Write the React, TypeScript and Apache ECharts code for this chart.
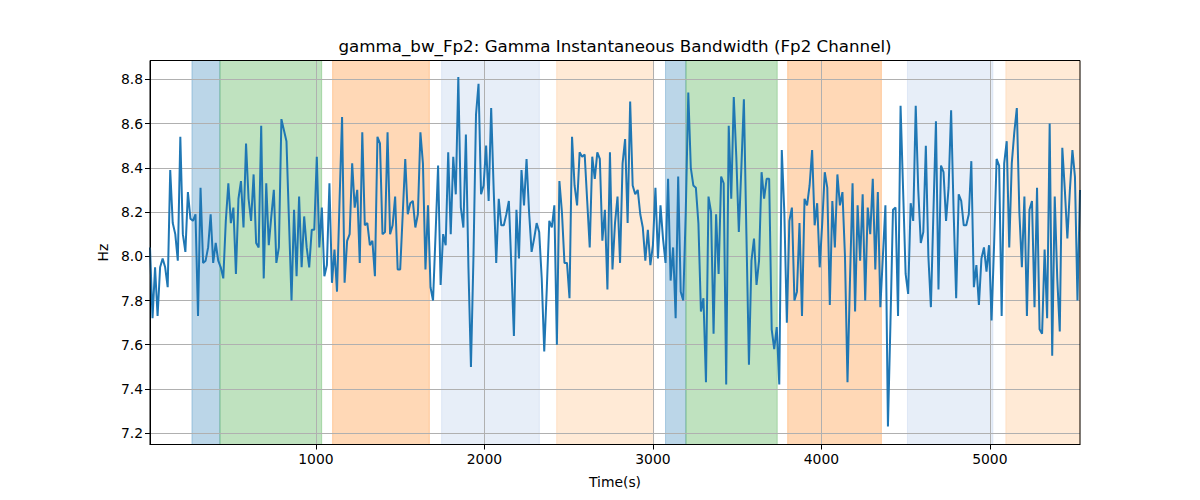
import React, { useEffect, useRef } from "react";
import * as echarts from "echarts";

// Sampling grid of the signal (seconds)
const T0 = 15;
const DT = 15;

// Gamma instantaneous bandwidth (Hz)
const bandwidth: number[] = [
  8.04, 7.72, 7.95, 7.73, 7.95, 7.99, 7.95, 7.86, 8.39, 8.15,
  8.10, 7.98, 8.54, 8.10, 8.02, 8.29, 8.17, 8.16, 8.19, 7.73,
  8.31, 7.97, 7.98, 8.04, 8.19, 7.97, 8.06, 7.98, 7.95, 7.90,
  8.16, 8.33, 8.15, 8.22, 7.92, 8.26, 8.34, 8.13, 8.51, 8.26,
  8.16, 8.37, 8.06, 8.04, 8.59, 7.90, 8.33, 8.05, 8.18, 8.30,
  7.97, 8.04, 8.62, 8.57, 8.52, 8.16, 7.80, 8.21, 7.91, 8.27,
  7.95, 8.18, 8.04, 7.95, 8.12, 8.12, 8.45, 8.04, 8.22, 7.91,
  7.96, 8.33, 7.88, 8.03, 7.84, 8.25, 8.63, 7.88, 8.07, 8.10,
  8.42, 8.22, 8.30, 7.97, 8.56, 8.14, 8.15, 8.05, 8.07, 7.91,
  8.54, 8.51, 8.10, 8.11, 8.56, 8.10, 8.14, 8.27, 7.94, 7.94,
  8.19, 8.44, 8.19, 8.24, 8.25, 8.13, 8.19, 8.56, 8.42, 7.94,
  8.23, 7.86, 7.80, 8.10, 8.41, 7.87, 8.10, 8.05, 8.47, 8.10,
  8.45, 8.28, 8.81, 8.22, 8.13, 8.55, 7.95, 7.50, 8.00, 8.64,
  8.78, 8.28, 8.32, 8.50, 8.25, 8.67, 8.30, 7.97, 8.26, 8.14,
  8.14, 8.19, 8.25, 7.95, 7.64, 8.21, 7.99, 8.39, 8.23, 8.44,
  8.20, 8.02, 8.08, 8.15, 8.11, 7.90, 7.57, 7.85, 8.16, 8.13,
  8.23, 7.60, 8.34, 8.20, 7.97, 7.97, 7.81, 8.54, 8.32, 8.23,
  8.47, 8.45, 8.46, 8.25, 8.04, 8.45, 8.35, 8.47, 8.44, 8.07,
  8.21, 7.85, 8.47, 7.94, 8.15, 8.27, 7.97, 8.42, 8.53, 8.15,
  8.70, 8.32, 8.28, 8.30, 8.19, 8.13, 7.98, 8.12, 7.96, 8.05,
  8.31, 7.99, 8.23, 8.08, 7.97, 8.35, 7.89, 8.04, 7.72, 8.36,
  7.84, 7.80, 8.20, 8.74, 8.40, 8.32, 8.31, 8.15, 7.75, 7.81,
  7.43, 8.27, 8.20, 7.65, 8.19, 7.92, 8.36, 8.33, 7.42, 8.59,
  8.26, 8.72, 8.45, 8.11, 8.40, 8.71, 8.10, 7.51, 7.98, 8.08,
  7.87, 7.98, 8.38, 8.26, 8.35, 8.35, 7.67, 7.58, 7.68, 7.42,
  8.48, 8.20, 7.70, 8.16, 8.22, 7.80, 7.84, 8.15, 7.73, 8.26,
  8.23, 8.32, 8.48, 8.14, 8.24, 7.95, 8.15, 8.38, 8.31, 7.78,
  8.25, 8.04, 8.37, 8.23, 8.29, 8.00, 7.43, 7.90, 8.33, 7.75,
  8.23, 7.98, 8.28, 7.80, 8.22, 8.10, 8.35, 7.94, 8.29, 7.77,
  8.00, 8.23, 7.23, 7.70, 8.21, 8.22, 7.73, 8.68, 8.30, 7.92,
  7.83, 8.24, 8.16, 8.68, 8.30, 8.06, 8.11, 8.50, 8.00, 7.77,
  8.20, 8.61, 7.85, 8.41, 8.38, 8.16, 8.31, 8.66, 8.20, 7.81,
  8.28, 8.25, 8.14, 8.14, 8.19, 8.43, 7.86, 7.96, 7.78, 7.99,
  8.04, 7.93, 8.05, 7.71, 8.05, 8.44, 8.41, 7.73, 8.42, 8.52,
  8.04, 8.42, 8.56, 8.67, 8.20, 7.95, 8.27, 7.73, 8.21, 8.25,
  7.77, 8.31, 7.67, 7.65, 8.03, 7.72, 8.60, 7.55, 8.27, 7.90,
  7.66, 8.49, 8.30, 8.08, 8.30, 8.48, 8.36, 7.80, 8.30,
];

// Shaded intervals (seconds) and their kind
const spanStarts: number[] = [264, 430, 1099, 1746, 2429, 3075, 3196, 3800, 4511, 5095];
const spanEnds: number[] = [430, 1034, 1673, 2326, 3004, 3196, 3738, 4356, 5018, 5535];
const spanKinds: string[] = ["blue", "green", "orange", "lightblue", "lightorange", "blue", "green", "orange", "lightblue", "lightorange"];

const xTicks: number[] = [1000, 2000, 3000, 4000, 5000];
const yTicks: number[] = [7.2, 7.4, 7.6, 7.8, 8.0, 8.2, 8.4, 8.6, 8.8];

const X_MIN = 15;
const X_MAX = 5535;
const Y_MIN = 7.149;
const Y_MAX = 8.885;

const spanColors: Record<string, string> = {
  blue: "rgba(31,119,180,0.3)",
  green: "rgba(44,160,44,0.3)",
  orange: "rgba(255,127,14,0.3)",
  lightblue: "rgba(174,199,232,0.3)",
  lightorange: "rgba(255,187,120,0.3)",
};

const FONT = "DejaVu Sans";

export default function App() {
  const ref = useRef<HTMLDivElement>(null);

  useEffect(() => {
    document.body.style.margin = "0";
    if (!ref.current) return;
    const chart = echarts.init(ref.current, undefined, { renderer: "svg" });

    const lineData = bandwidth.map((v, i) => [T0 + i * DT, v]);
    const areas = spanStarts.map((s, i) => [
      {
        xAxis: s,
        itemStyle: {
          color: spanColors[spanKinds[i]],
          borderColor: spanColors[spanKinds[i]],
          borderWidth: 1,
        },
      },
      { xAxis: spanEnds[i] },
    ]);

    chart.setOption({
      animation: false,
      backgroundColor: "#ffffff",
      textStyle: { fontFamily: FONT },
      grid: {
        left: 150,
        right: 120,
        top: 60.5,
        bottom: 55.5,
        show: true,
        borderColor: "#000000",
        borderWidth: 1,
        backgroundColor: "transparent",
        z: 3,
      },
      graphic: [
        {
          type: "text",
          x: 615,
          y: 46,
          style: {
            text: "gamma_bw_Fp2: Gamma Instantaneous Bandwidth (Fp2 Channel)",
            font: `16.7px "${FONT}"`,
            fill: "#000000",
            textAlign: "center",
            textVerticalAlign: "middle",
          },
        },
      ],
      xAxis: {
        type: "value",
        min: X_MIN,
        max: X_MAX,
        z: 1.5,
        name: "Time(s)",
        nameLocation: "middle",
        nameGap: 30,
        nameTextStyle: { fontFamily: FONT, fontSize: 13.9, color: "#000" },
        axisLine: { show: true, lineStyle: { color: "#000", width: 1 } },
        axisTick: {
          show: true,
          length: 5,
          lineStyle: { color: "#000", width: 1 },
          customValues: xTicks,
        },
        axisLabel: {
          fontFamily: FONT,
          fontSize: 13.9,
          color: "#000",
          margin: 7,
          customValues: xTicks,
          formatter: (v: number) => String(Math.round(v)),
        },
        splitLine: { show: true, lineStyle: { color: "#b0b0b0", width: 1 } },
      },
      yAxis: {
        type: "value",
        min: Y_MIN,
        max: Y_MAX,
        z: 1.5,
        name: "Hz",
        nameLocation: "middle",
        nameGap: 34,
        nameTextStyle: { fontFamily: FONT, fontSize: 13.9, color: "#000" },
        axisLine: { show: true, lineStyle: { color: "#000", width: 1 } },
        axisTick: {
          show: true,
          length: 5,
          lineStyle: { color: "#000", width: 1 },
          customValues: yTicks,
        },
        axisLabel: {
          fontFamily: FONT,
          fontSize: 13.9,
          color: "#000",
          margin: 7,
          customValues: yTicks,
          formatter: (v: number) => v.toFixed(1),
        },
        splitLine: { show: true, lineStyle: { color: "#b0b0b0", width: 1 } },
      },
      series: [
        {
          type: "line",
          name: "spans",
          z: 1,
          silent: true,
          data: lineData,
          showSymbol: false,
          symbol: "none",
          lineStyle: { opacity: 0, width: 0 },
          markArea: { silent: true, data: areas },
        },
        {
          type: "line",
          name: "gamma_bw_Fp2",
          z: 2,
          data: lineData,
          showSymbol: false,
          symbol: "none",
          clip: true,
          lineStyle: { color: "#1f77b4", width: 2 },
          itemStyle: { color: "#1f77b4" },
        },
      ],
    });

    return () => {
      chart.dispose();
    };
  }, []);

  return <div ref={ref} style={{ width: 1200, height: 500 }} />;
}
